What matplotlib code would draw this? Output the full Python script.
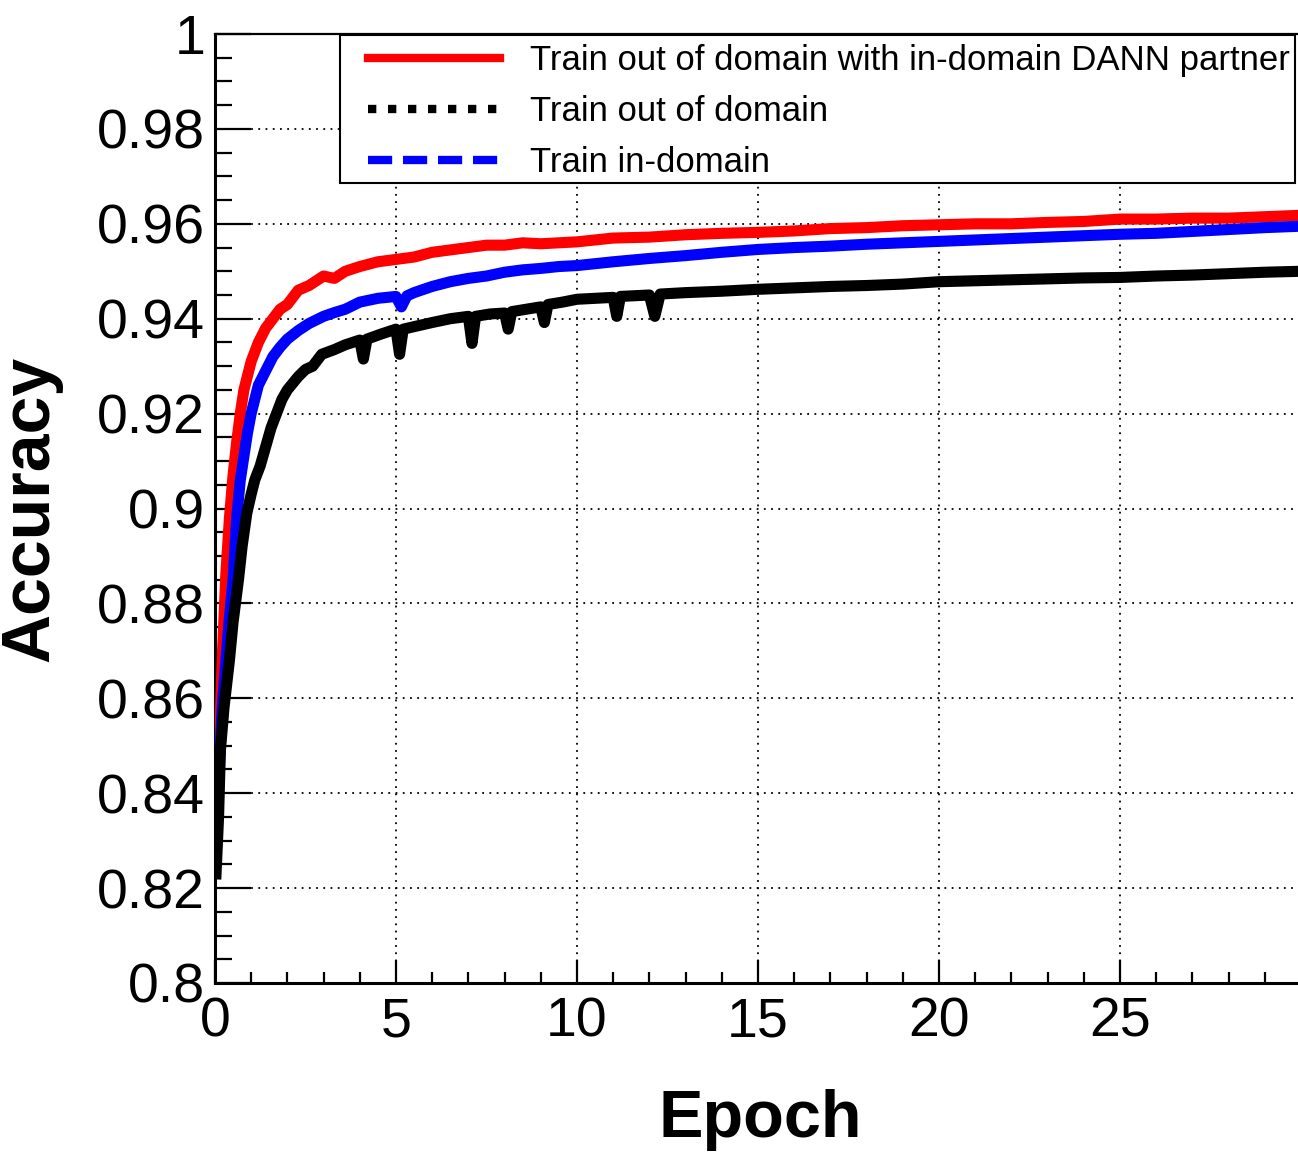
import matplotlib.pyplot as plt
from matplotlib.lines import Line2D
from matplotlib.patches import Rectangle
from matplotlib.ticker import FixedLocator, FuncFormatter

plt.rcParams['font.family'] = ['Liberation Sans', 'DejaVu Sans']

# Train out of domain with in-domain DANN partner (red)
epochsDann = [0.03, 0.1, 0.2, 0.3, 0.4, 0.5, 0.6, 0.7, 0.8, 0.9, 1.0, 1.2, 1.4,
              1.6, 1.8, 2.0, 2.3, 2.6, 3.0, 3.3, 3.6, 4.0, 4.5, 5.0, 5.5, 6.0,
              6.5, 7.0, 7.5, 8.0, 8.5, 9.0, 9.5, 10, 11, 12, 13, 14, 15, 16, 17,
              18, 19, 20, 21, 22, 23, 24, 25, 26, 27, 28, 29, 30]
accDann = [0.826, 0.845, 0.868, 0.886, 0.898, 0.907, 0.914, 0.920, 0.925, 0.928,
           0.931, 0.935, 0.938, 0.940, 0.942, 0.943, 0.946, 0.947, 0.949, 0.9485,
           0.950, 0.951, 0.952, 0.9525, 0.953, 0.954, 0.9545, 0.955, 0.9555,
           0.9555, 0.956, 0.9558, 0.956, 0.9562, 0.957, 0.9572, 0.9577, 0.958,
           0.9582, 0.9585, 0.959, 0.9592, 0.9596, 0.9598, 0.960, 0.960, 0.9603,
           0.9605, 0.961, 0.961, 0.9612, 0.9612, 0.9615, 0.9618]

# Train out of domain (black)
epochsOut = [0.03, 0.1, 0.15, 0.25, 0.4, 0.5, 0.65, 0.75, 0.88, 1.0, 1.1, 1.25,
             1.4, 1.55, 1.7, 1.85, 2.0, 2.3, 2.5, 2.7, 2.95, 3.3, 3.6, 4.0, 4.1,
             4.2, 4.6, 5.0, 5.1, 5.2, 5.6, 6.0, 6.5, 7.0, 7.1, 7.2, 7.6, 8.0, 8.1,
             8.2, 8.6, 9.0, 9.1, 9.2, 9.6, 10, 10.5, 11.0, 11.1, 11.2, 12, 12.15,
             12.3, 13, 14, 15, 16, 17, 18, 19, 20, 21, 22, 23, 24, 25, 26, 27, 28,
             29, 30]
accOut = [0.823, 0.835, 0.849, 0.858, 0.868, 0.876, 0.885, 0.892, 0.899, 0.903,
          0.906, 0.909, 0.913, 0.917, 0.920, 0.923, 0.925, 0.9278, 0.9293, 0.930,
          0.9325, 0.9335, 0.9345, 0.9355, 0.9315, 0.9357, 0.9368, 0.9378, 0.9325,
          0.9378, 0.9385, 0.9392, 0.940, 0.9405, 0.9348, 0.9405, 0.941, 0.9412,
          0.9378, 0.9415, 0.942, 0.9425, 0.9392, 0.943, 0.9435, 0.9441, 0.9443,
          0.9445, 0.9405, 0.9447, 0.945, 0.9405, 0.9452, 0.9455, 0.9458, 0.9462,
          0.9465, 0.9468, 0.947, 0.9473, 0.9478, 0.948, 0.9482, 0.9484, 0.9486,
          0.9487, 0.949, 0.9492, 0.9495, 0.9498, 0.950]

# Train in-domain (blue)
epochsIn = [0.03, 0.1, 0.2, 0.3, 0.4, 0.5, 0.6, 0.7, 0.8, 0.9, 1.0, 1.2, 1.4, 1.6,
            1.8, 2.0, 2.3, 2.6, 3.0, 3.3, 3.6, 4.0, 4.5, 5.0, 5.15, 5.3, 5.5, 6.0,
            6.5, 7.0, 7.5, 8.0, 8.5, 9.0, 9.5, 10, 11, 12, 13, 14, 15, 16, 17, 18,
            19, 20, 21, 22, 23, 24, 25, 26, 27, 28, 29, 30]
accIn = [0.828, 0.842, 0.858, 0.868, 0.877, 0.885, 0.898, 0.906, 0.911, 0.916,
         0.920, 0.926, 0.929, 0.932, 0.934, 0.9357, 0.9375, 0.939, 0.9405, 0.9413,
         0.942, 0.9435, 0.9443, 0.9447, 0.9425, 0.9448, 0.9455, 0.9468, 0.9478,
         0.9485, 0.949, 0.9498, 0.9503, 0.9506, 0.951, 0.9512, 0.952, 0.9527,
         0.9533, 0.954, 0.9546, 0.955, 0.9553, 0.9557, 0.956, 0.9563, 0.9566,
         0.9569, 0.9572, 0.9575, 0.9578, 0.958, 0.9584, 0.9588, 0.9592, 0.9595]

labels = ["Train out of domain with in-domain DANN partner",
          "Train out of domain",
          "Train in-domain"]

xMajor = [0, 5, 10, 15, 20, 25]
xMinor = list(range(1, 30))
yMajor = [0.80, 0.82, 0.84, 0.86, 0.88, 0.90, 0.92, 0.94, 0.96, 0.98, 1.00]
yMinor = [0.80 + 0.005 * k for k in range(41)]

fig = plt.figure(figsize=(12.98, 11.54), dpi=100)
axe = fig.add_axes([0.1656, 0.1482, 0.8367, 0.8223])

axe.plot(epochsDann, accDann, color="#ff0000", linewidth=8, zorder=3)
axe.plot(epochsIn, accIn, color="#0000ff", linewidth=8, zorder=3)
axe.plot(epochsOut, accOut, color="black", linewidth=8, zorder=3)

axe.set_xlim(0, 30)
axe.set_ylim(0.8, 1.0)

axe.xaxis.set_major_locator(FixedLocator(xMajor))
axe.xaxis.set_minor_locator(FixedLocator(xMinor))
axe.yaxis.set_major_locator(FixedLocator(yMajor))
axe.yaxis.set_minor_locator(FixedLocator(yMinor))
axe.yaxis.set_major_formatter(FuncFormatter(lambda v, p: "%g" % round(v, 2)))
axe.xaxis.set_major_formatter(FuncFormatter(lambda v, p: "%g" % v))

axe.tick_params(which="both", direction="in", top=False, right=False, width=1.6)
axe.tick_params(axis="y", which="major", length=26, pad=7, labelsize=40)
axe.tick_params(axis="y", which="minor", length=12)
axe.tick_params(axis="x", which="major", length=16.5, pad=10, labelsize=40)
axe.tick_params(axis="x", which="minor", length=8)

axe.grid(True, which="major", color="black", linewidth=1.3,
         linestyle=(0, (1, 3)), zorder=1)
axe.set_axisbelow(True)

for side in ["left", "bottom"]:
    axe.spines[side].set_linewidth(2.2)
axe.spines["top"].set_linewidth(1.6)
axe.spines["right"].set_linewidth(1.6)

axe.set_xlabel("Epoch", fontsize=48, fontweight="bold", va="top")
axe.xaxis.set_label_coords(0.502, -0.112)
axe.set_ylabel("Accuracy", fontsize=49, fontweight="bold")
axe.yaxis.set_label_coords(-0.141, 0.5)

# cadre de la légende, façon ROOT
cadre = Rectangle((0.1151, 0.843), 0.8794, 0.156, transform=axe.transAxes,
                  facecolor="white", edgecolor="black", linewidth=1.5,
                  zorder=4, clip_on=False)
axe.add_patch(cadre)

poignees = [
    Line2D([], [], color="#ff0000", linewidth=6, linestyle="-"),
    Line2D([], [], color="black", linewidth=6, linestyle=(0, (1, 1.4)),
           dash_capstyle="butt"),
    Line2D([], [], color="#0000ff", linewidth=6, linestyle=(0, (2.9, 1.3)),
           dash_capstyle="butt"),
]
legende = axe.legend(poignees, labels, loc="upper left",
                     bbox_to_anchor=(0.1335, 0.998), borderaxespad=0,
                     frameon=False, fontsize=25, handlelength=3.8,
                     handletextpad=0.86, labelspacing=0.52, borderpad=0.23)
legende.set_zorder(5)

fig.savefig("out.png", dpi=100)
plt.close(fig)
